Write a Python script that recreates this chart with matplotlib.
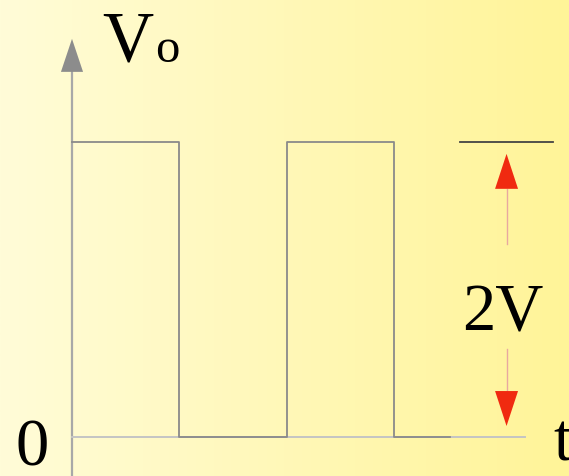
import numpy as np
import matplotlib
matplotlib.use("Agg")
import matplotlib.pyplot as plt

# ── square wave (time in periods/2, voltage in V) ──
wave_t = [0.0, 1.0, 1.0, 2.0, 2.0, 3.0, 3.0, 3.52]
wave_v = [2.0, 2.0, 0.0, 0.0, 2.0, 2.0, 0.0, 0.0]

# axes extents
t_axis_end = 4.22
v_axis_top = 2.70
v_axis_bottom = -0.30

# 2V amplitude marker
amp_line_t = [3.62, 4.48]
amp_level = 2.0
arrow_t = 4.05
up_arrow = (1.31, 1.92)     # shaft start, tip
down_arrow = (0.60, 0.075)  # shaft start, tip
amp_label = "2V"

# ── figure ──
plt.rcParams["font.family"] = ["Liberation Serif", "DejaVu Serif"]
fig = plt.figure(figsize=(5.69, 4.77), dpi=100)
ax = fig.add_axes([0, 0, 1, 1])
xlim = (-0.671, 4.632)
ylim = (-0.264, 2.970)
ax.set_xlim(*xlim)
ax.set_ylim(*ylim)
ax.axis("off")

# background gradient, pale yellow -> yellow
left = np.array([255, 252, 216]) / 255
right = np.array([255, 244, 152]) / 255
g = np.linspace(0, 1, 256)[None, :, None]
grad = left * (1 - g) + right * g
ax.imshow(grad, extent=[*xlim, *ylim], aspect="auto", zorder=0)

# axes lines
ax.plot([0, 0], [v_axis_bottom, v_axis_top - 0.2], color="#a8a8a8", lw=1.6, zorder=2)
ax.plot([0, t_axis_end], [0, 0], color="#c4c4c4", lw=1.4, zorder=2)
hw, hl = 0.103, 0.224
ax.fill([-hw, hw, 0], [v_axis_top - hl, v_axis_top - hl, v_axis_top],
        color="#8c8c8c", lw=0, zorder=3)

# wave
ax.plot(wave_t, wave_v, color="#8a8a8a", lw=1.3, zorder=3)

# amplitude marker
ax.plot(amp_line_t, [amp_level, amp_level], color="#444444", lw=1.3, zorder=3)
ahw, ahl = 0.107, 0.237
for start, tip in (up_arrow, down_arrow):
    d = np.sign(tip - start)
    base = tip - d * ahl
    ax.plot([arrow_t, arrow_t], [start, base], color="#e8a8a0", lw=1.0, zorder=3)
    ax.fill([arrow_t - ahw, arrow_t + ahw, arrow_t], [base, base, tip],
            color="#f02a10", lw=0, zorder=4)

# labels
ax.text(4.017, 0.732, amp_label, fontsize=48, ha="center", va="baseline", color="black")
ax.text(-0.373, -0.183, "0", fontsize=48, ha="center", va="baseline", color="black")
ax.text(4.49, -0.149, "t", fontsize=48, ha="left", va="baseline", color="black")
ax.text(0.28, 2.563, "V", fontsize=51, ha="left", va="baseline", color="black")
ax.text(0.774, 2.549, "o", fontsize=35, ha="left", va="baseline", color="black")

fig.savefig("out.png", dpi=100)
